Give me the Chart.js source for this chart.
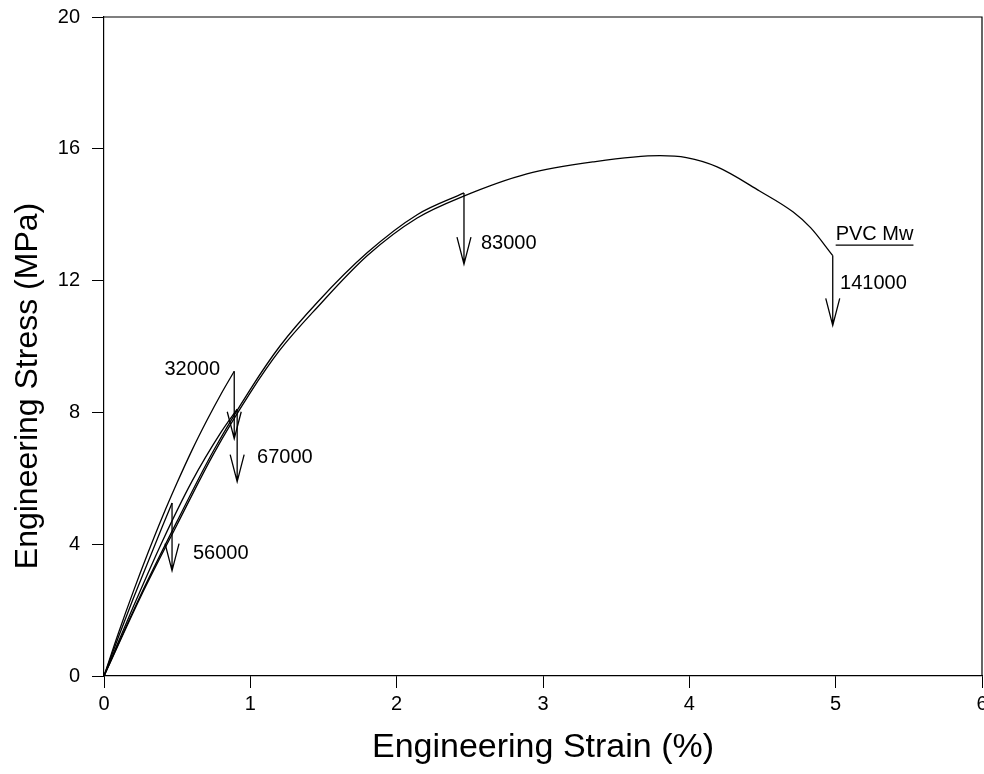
<!DOCTYPE html>
<html>
<head>
<meta charset="utf-8">
<script src="https://cdn.jsdelivr.net/npm/chart.js@4/dist/chart.umd.min.js"></script>
<style>
  html, body { margin: 0; padding: 0; background: #fff; overflow: hidden; }
  #wrap { position: relative; width: 1000px; height: 774px; }
</style>
</head>
<body>
<div id="wrap"><canvas id="chart"></canvas></div>
<script>
// PVC molecular weights and their stress-strain curves (strain %, stress MPa)
const mwLabels = ['32000', '56000', '67000', '83000', '141000'];

const strain32000 = [0, 0.1, 0.2, 0.3, 0.4, 0.5, 0.6, 0.7, 0.8, 0.89];
const stress32000 = [0, 1.32, 2.56, 3.73, 4.84, 5.87, 6.84, 7.73, 8.56, 9.25];

const strain56000 = [0, 0.1, 0.2, 0.3, 0.4, 0.465];
const stress56000 = [0, 1.2, 2.35, 3.45, 4.55, 5.25];

const strain67000 = [0, 0.2, 0.4, 0.6, 0.8, 0.91];
const stress67000 = [0, 2.1, 4.1, 5.9, 7.4, 8.1];

const strain83000 = [0, 0.25, 0.5, 0.75, 1.0, 1.2, 1.46, 1.8, 2.14, 2.46];
const stress83000 = [0, 2.45, 4.7, 6.85, 8.7, 10.0, 11.35, 12.85, 14.0, 14.66];

const strain141000 = [0, 0.25, 0.5, 0.75, 1.0, 1.2, 1.46, 1.8, 2.14, 2.45, 2.89, 3.34, 3.8, 3.98, 4.19, 4.48, 4.71, 4.83, 4.98];
const stress141000 = [0, 2.4, 4.6, 6.75, 8.6, 9.88, 11.2, 12.76, 13.9, 14.55, 15.24, 15.6, 15.79, 15.73, 15.45, 14.72, 14.08, 13.6, 12.76];

// failure arrows: strain, stress at break, stress at arrow tip
const dropStrain = [0.89, 0.465, 0.91, 2.46, 4.98];
const dropFrom = [9.25, 5.25, 8.1, 14.66, 12.76];
const dropTo = [7.2, 3.2, 5.9, 12.5, 10.64];

// label anchors in data units
const noteX = [0.793, 0.608, 1.046, 2.576, 5.03];
const noteY = [9.29, 3.73, 6.62, 13.14, 11.9];
const noteAlign = ['right', 'left', 'left', 'left', 'left'];

const pts = (xs, ys) => xs.map((x, i) => ({ x: x, y: ys[i] }));
const curve = (label, xs, ys) => ({
  label: label,
  data: pts(xs, ys),
  showLine: true,
  borderColor: '#000',
  borderWidth: 1.3,
  pointRadius: 0,
  cubicInterpolationMode: 'monotone',
  fill: false
});

const FONT = '"Liberation Sans", Arial, sans-serif';

const frame = {
  id: 'frame',
  afterDraw(chart) {
    const { ctx, chartArea: a } = chart;
    ctx.save();
    ctx.strokeStyle = '#000';
    ctx.lineWidth = 1.2;
    ctx.beginPath();
    ctx.moveTo(a.left, a.top);
    ctx.lineTo(a.right, a.top);
    ctx.lineTo(a.right, a.bottom);
    ctx.stroke();
    // y axis title, set a little below the axis middle as in the source
    ctx.fillStyle = '#000';
    ctx.font = '32px ' + FONT;
    ctx.textAlign = 'center';
    ctx.textBaseline = 'middle';
    ctx.translate(28, 386);
    ctx.rotate(-Math.PI / 2);
    ctx.fillText('Engineering Stress (MPa)', 0, 0);
    ctx.restore();
  }
};

const arrows = {
  id: 'arrows',
  afterDatasetsDraw(chart) {
    const { ctx } = chart;
    const x = chart.scales.x, y = chart.scales.y;
    ctx.save();
    ctx.strokeStyle = '#000';
    ctx.lineWidth = 1.3;
    dropStrain.forEach((v, i) => {
      const px = x.getPixelForValue(v);
      const p0 = y.getPixelForValue(dropFrom[i]);
      const p1 = y.getPixelForValue(dropTo[i]);
      ctx.beginPath();
      ctx.moveTo(px, p0);
      ctx.lineTo(px, p1);
      ctx.moveTo(px - 7, p1 - 27);
      ctx.lineTo(px, p1);
      ctx.lineTo(px + 7, p1 - 27);
      ctx.stroke();
    });
    ctx.fillStyle = '#000';
    ctx.font = '20px ' + FONT;
    ctx.textBaseline = 'middle';
    mwLabels.forEach((t, i) => {
      ctx.textAlign = noteAlign[i];
      ctx.fillText(t, x.getPixelForValue(noteX[i]), y.getPixelForValue(noteY[i]));
    });
    // "PVC Mw" heading, underlined
    const hx = x.getPixelForValue(5.0), hy = y.getPixelForValue(13.41);
    ctx.textAlign = 'left';
    ctx.fillText('PVC Mw', hx, hy);
    const w = ctx.measureText('PVC Mw').width;
    ctx.lineWidth = 1.2;
    ctx.beginPath();
    ctx.moveTo(hx, hy + 11);
    ctx.lineTo(hx + w, hy + 11);
    ctx.stroke();
    ctx.restore();
  }
};

const ctx = document.getElementById('chart').getContext('2d');
new Chart(ctx, {
  type: 'scatter',
  data: {
    datasets: [
      curve(mwLabels[0], strain32000, stress32000),
      curve(mwLabels[1], strain56000, stress56000),
      curve(mwLabels[2], strain67000, stress67000),
      curve(mwLabels[3], strain83000, stress83000),
      curve(mwLabels[4], strain141000, stress141000)
    ]
  },
  options: {
    responsive: true,
    maintainAspectRatio: false,
    animation: false,
    layout: { padding: { top: 17, right: 18, left: 0, bottom: 0 } },
    plugins: { legend: { display: false }, tooltip: { enabled: false } },
    scales: {
      x: {
        type: 'linear', min: 0, max: 6,
        afterFit: s => { s.height = 98; s.paddingLeft = 0; s.paddingRight = 0; },
        ticks: { stepSize: 1, color: '#000', padding: 4, font: { family: FONT, size: 20 } },
        grid: { drawOnChartArea: false, tickLength: 12, color: '#000', lineWidth: 1 },
        border: { color: '#000', width: 1.2 },
        title: { display: true, text: 'Engineering Strain (%)', color: '#000',
                 font: { family: FONT, size: 34, lineHeight: 1.2 }, padding: { top: 0, bottom: 6 } }
      },
      y: {
        type: 'linear', min: 0, max: 20,
        afterFit: s => { s.width = 104; s.paddingTop = 0; s.paddingBottom = 0; },
        ticks: { stepSize: 4, color: '#000', padding: 12, font: { family: FONT, size: 20 } },
        grid: { drawOnChartArea: false, tickLength: 12, color: '#000', lineWidth: 1 },
        border: { color: '#000', width: 1.2 },
        title: { display: false }
      }
    }
  },
  plugins: [frame, arrows]
});
</script>
</body>
</html>
